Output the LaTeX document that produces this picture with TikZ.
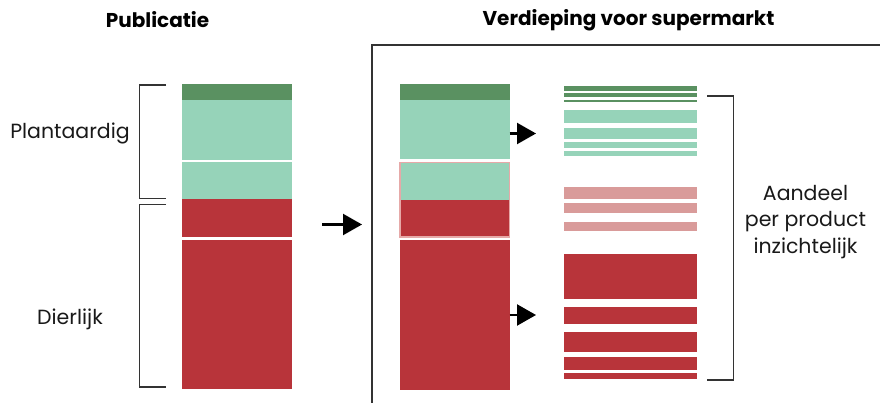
\documentclass[tikz,border=0pt]{standalone}
\usepackage{fontspec}
\setmainfont{Poppins}
\usetikzlibrary{arrows.meta}
\definecolor{dkgreen}{HTML}{5A9161}
\definecolor{ltgreen}{HTML}{96D3B9}
\definecolor{dkred}{HTML}{B8343A}
\definecolor{pinkred}{HTML}{D99B9A}
\definecolor{pinkline}{HTML}{E6A9A8}
\definecolor{linegray}{HTML}{333333}
\tikzset{
  bracketline/.style={draw=linegray, line width=1.6pt},
  framebox/.style={draw=linegray, line width=1.4pt},
  bigarrow/.style={draw=black, line width=2.2pt, -{Triangle[length=19pt,width=21pt]}},
  lbl/.style={font=\fontsize{20.5}{24}\selectfont, text=black!90, inner sep=0pt},
  ttl/.style={font=\bfseries\fontsize{20}{24}\selectfont, text=black, inner sep=0pt},
}
\begin{document}
\begin{tikzpicture}[x=1pt,y=-1pt]
\path[use as bounding box] (0,0) rectangle (880,403);
\clip (0,0) rectangle (880,403);
% titles
\node[ttl] (t1) at (157.5,20) {Publicatie};
\node[ttl] (t2) at (628.5,20) {Verdieping voor supermarkt};
% frame
\draw[framebox] (372,45) rectangle (900,420);
% left column
\fill[dkgreen] (182,84) rectangle (292,100);
\fill[ltgreen] (182,100) rectangle (292,160);
\fill[ltgreen] (182,162.5) rectangle (292,199);
\fill[dkred] (182,199) rectangle (292,237);
\fill[dkred] (182,240) rectangle (292,389);
% left brackets
\draw[bracketline] (166,85) -- (139.5,85) -- (139.5,198.5) -- (166,198.5);
\draw[bracketline] (166,204.5) -- (139.5,204.5) -- (139.5,387) -- (166,387);
\node[lbl] (plant) at (70,133) {Plantaardig};
\node[lbl] (dier) at (70,319) {Dierlijk};
% middle column
\fill[dkgreen] (400,84) rectangle (509.5,100.5);
\fill[ltgreen] (400,100.5) rectangle (509.5,159.5);
\fill[ltgreen] (400,162.5) rectangle (509.5,200);
\fill[dkred] (400,200) rectangle (509.5,237);
\draw[pinkline, line width=1.4pt] (399.8,162.5) rectangle (509.7,237);
\fill[dkred] (400,240) rectangle (509.5,390);
% right stripes
\foreach \a/\b in {85.7/91, 93.3/96.7, 100/102.3}
  \fill[dkgreen] (563.5,\a) rectangle (696.5,\b);
\foreach \a/\b in {110/123.3, 127.7/139, 142.3/148, 151/155.7}
  \fill[ltgreen] (563.5,\a) rectangle (696.5,\b);
\foreach \a/\b in {187.3/198.7, 202.7/213, 221.7/231.3}
  \fill[pinkred] (563.5,\a) rectangle (696.5,\b);
\foreach \a/\b in {254/299.3, 307.3/324, 331.7/351.7, 357.3/370, 373.3/379.3}
  \fill[dkred] (563.5,\a) rectangle (696.5,\b);
% right bracket
\draw[bracketline] (707,95.8) -- (733.3,95.8) -- (733.3,380) -- (707,380);
\node[lbl, align=center, font=\fontsize{20.5}{26.5}\selectfont] (aandeel) at (805.5,222) {Aandeel\\per product\\inzichtelijk};
% arrows
\coordinate (m0) at (322,224.5);
\coordinate (m1) at (362,224.5);
\draw[bigarrow] (m0) -- (m1);
\coordinate (a0) at (509.5,133.5);
\coordinate (a1) at (536,133.5);
\draw[bigarrow] (a0) -- (a1);
\coordinate (b0) at (509.5,315);
\coordinate (b1) at (536,315);
\draw[bigarrow] (b0) -- (b1);
\end{tikzpicture}
\end{document}
